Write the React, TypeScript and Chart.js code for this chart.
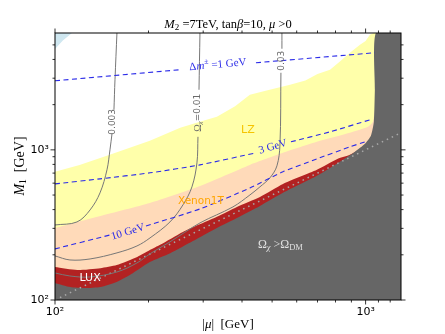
import React, { useEffect, useRef } from 'react';
import { Chart, registerables } from 'chart.js';

Chart.register(...registerables);

const X_MIN = 100;
const X_MAX = 1300;
const Y_MIN = 100;
const Y_MAX = 6000;

// Tick values
const xTickValues = [100, 1000];
const xTickLabels = ['10²', '10³'];
const yTickValues = [100, 1000];
const yTickLabels = ['10²', '10³'];
const xMinorTicks = [200, 300, 400, 500, 600, 700, 800, 900, 1100, 1200];
const yMinorTicks = [200, 300, 400, 500, 600, 700, 800, 900, 2000, 3000, 4000, 5000];

// Region upper edges (|mu|, M1)
const blueMu = [100, 106, 113.4];
const blueM1 = [4700, 5350, 6000];

const lzMu = [100, 120, 150, 202, 253, 300, 332, 380, 424, 480, 571, 640, 700, 768, 830, 890, 959, 1000, 1032, 1063, 1300];
const lzM1 = [714, 794, 926, 1148, 1402, 1560, 1660, 1950, 2326, 2480, 2712, 2900, 3200, 3415, 3900, 4434, 5012, 5300, 5848, 6000, 6000];

const xenonMu = [100, 140, 202, 293, 424, 542, 697, 890, 1017, 1056, 1079, 1300];
const xenonM1 = [302, 363, 443, 575, 794, 955, 1131, 1298, 1423, 1537, 1848, 1848];

const luxMu = [100, 118, 140, 158, 184, 202, 218, 258, 332, 385, 457, 542, 697, 814, 890, 1300];
const luxM1 = [166, 158.5, 163, 171, 193.5, 215, 233, 284, 358, 417, 486, 593, 736, 871, 926, 1500];

const relicMu = [100, 112, 125, 140, 158, 178, 202, 235, 278, 332, 385, 457, 542, 697, 827, 924, 995, 1040, 1063, 1071, 1079, 1300];
const relicM1 = [130, 122, 120, 122, 132, 151, 179, 205, 247, 302, 352, 423, 517, 671, 832, 970, 1096, 1240, 1537, 2512, 6000, 6000];

// M1 = |mu| diagonal
const diagMu = [100, 1300];
const diagM1 = [100, 1300];

// Mass splitting contours (null = gap for label)
const dm1Mu = [100, 252.6, 300, 443.6, 1071];
const dm1M1 = [2884, 3415, null, 3802, 4434];
const dm3Mu = [100, 139.6, 202.2, 292.9, 443.6, 500, 575, 768, 1032];
const dm3M1 = [593, 641, 703, 794, 955, null, 1131, 1318, 1585];
const dm10Mu = [100, 150.3, 170, 196.3, 292.9, 424.3, 541.8, 697.2, 890.2, 995];
const dm10M1 = [219, 271, null, 311, 404, 558, 714, 871, 1047, 1131];

// Relic abundance contours
const om003Mu = [100, 117.7, 129.7, 139.6, 147, 150.3, 152.6, 153.7, 154.8, 156, 158.3];
const om003M1 = [316, 331, 398, 517, 736, 1000, 1279, null, 1848, 2929, 6026];
const om01Mu = [100, 111.7, 129.7, 158.3, 183.6, 202.2, 234.5, 258.2, 276, 286.4, 288.6, 289.5, 290.8, 292.9];
const om01M1 = [196.6, 184.8, 187.7, 206, 229, 259, 331, 430, 567, 819, 1221, null, 2512, 6026];
const om03Mu = [100, 111.7, 129.7, 158.3, 183.6, 202.2, 234.5, 292.9, 374.1, 424.3, 456.9, 492, 518.2, 529.9, 533.8, 536, 537.8, 537.8];
const om03M1 = [151.4, 144.5, 142.3, 153.7, 176.5, 203, 244, 326, 417, 501, 567, 651, 782, 1080, 3261, null, 4713, 6026];

const SERIF = '"Liberation Serif", "DejaVu Serif", serif';
const SANS = '"DejaVu Sans", sans-serif';

type Seg = { t: string; f: string; dy?: number };

function drawRich(ctx: CanvasRenderingContext2D, segs: Seg[], x: number, y: number, angle: number, align: 'center' | 'left', color: string) {
  ctx.save();
  ctx.translate(x, y);
  ctx.rotate((angle * Math.PI) / 180);
  ctx.fillStyle = color;
  ctx.textBaseline = 'middle';
  ctx.textAlign = 'left';
  let w = 0;
  for (const s of segs) {
    ctx.font = s.f;
    w += ctx.measureText(s.t).width;
  }
  let cx = align === 'center' ? -w / 2 : 0;
  for (const s of segs) {
    ctx.font = s.f;
    ctx.fillText(s.t, cx, s.dy || 0);
    cx += ctx.measureText(s.t).width;
  }
  ctx.restore();
}

const pts = (xs: number[], ys: (number | null)[]) => xs.map((x, i) => ({ x, y: ys[i] }));

const overlayPlugin = {
  id: 'overlay',
  afterDraw(chart: any) {
    const { ctx, chartArea: a, scales } = chart;
    const x = scales.x;
    const y = scales.y;
    const px = (v: number) => x.getPixelForValue(v);
    const py = (v: number) => y.getPixelForValue(v);

    // frame
    ctx.save();
    ctx.strokeStyle = '#000';
    ctx.lineWidth = 1;
    ctx.strokeRect(a.left, a.top, a.right - a.left, a.bottom - a.top);
    ctx.lineWidth = 0.8;
    ctx.beginPath();
    const tick = (x0: number, y0: number, x1: number, y1: number) => {
      ctx.moveTo(x0, y0);
      ctx.lineTo(x1, y1);
    };
    for (const v of xTickValues) {
      const p = px(v);
      tick(p, a.bottom, p, a.bottom + 4.5);
      tick(p, a.top, p, a.top - 4.5);
    }
    for (const v of xMinorTicks) {
      const p = px(v);
      tick(p, a.bottom, p, a.bottom + 2.5);
      tick(p, a.top, p, a.top - 2.5);
    }
    for (const v of yTickValues) {
      const p = py(v);
      tick(a.left, p, a.left - 4.5, p);
      tick(a.right, p, a.right + 4.5, p);
    }
    for (const v of yMinorTicks) {
      const p = py(v);
      tick(a.left, p, a.left - 2.5, p);
      tick(a.right, p, a.right + 2.5, p);
    }
    ctx.stroke();
    ctx.restore();

    // title
    const tf = `12.5px ${SERIF}`;
    const tfi = `italic 12.5px ${SERIF}`;
    drawRich(ctx, [
      { t: 'M', f: tfi },
      { t: '2', f: `9px ${SERIF}`, dy: 3 },
      { t: ' =7TeV, tan', f: tf },
      { t: 'β', f: tfi },
      { t: '=10, ', f: tf },
      { t: 'μ', f: tfi },
      { t: ' >0', f: tf },
    ], (a.left + a.right) / 2, 25, 0, 'center', '#000');

    // axis titles
    drawRich(ctx, [
      { t: '|', f: `13px ${SERIF}` },
      { t: 'μ', f: `italic 13px ${SERIF}` },
      { t: '|  [GeV]', f: `13px ${SERIF}` },
    ], (a.left + a.right) / 2, 325, 0, 'center', '#000');
    drawRich(ctx, [
      { t: 'M', f: `italic 14px ${SERIF}` },
      { t: '1', f: `9.5px ${SERIF}`, dy: 3 },
      { t: '  [GeV]', f: `14px ${SERIF}` },
    ], 20, 166, -90, 'center', '#000');

    // region labels
    drawRich(ctx, [{ t: 'LZ', f: `11px ${SANS}` }], px(418), py(1359), 0, 'center', '#f5c400');
    drawRich(ctx, [{ t: 'Xenon1T', f: `10.5px ${SANS}` }], px(295), py(457), 0, 'center', '#ffa500');
    drawRich(ctx, [{ t: 'LUX', f: `11px ${SANS}` }], px(129.7), py(140), 0, 'center', '#ffffff');
    drawRich(ctx, [
      { t: 'Ω', f: `12px ${SERIF}` },
      { t: 'χ', f: `italic 8.5px ${SERIF}`, dy: 3 },
      { t: ' >Ω', f: `12px ${SERIF}` },
      { t: 'DM', f: `8.5px ${SERIF}`, dy: 3 },
    ], px(450), py(233), 0, 'left', '#e0e0e0');

    // mass splitting labels
    const blue = '#2b2be8';
    drawRich(ctx, [
      { t: 'Δ', f: `11px ${SERIF}` },
      { t: 'm', f: `italic 11px ${SERIF}` },
      { t: '±', f: `8px ${SERIF}`, dy: -4 },
      { t: ' =1 GeV', f: `11px ${SERIF}` },
    ], px(334.6), py(3687), -5, 'center', blue);
    drawRich(ctx, [{ t: '3 GeV', f: `11px ${SERIF}` }], px(503), py(1047), -16, 'center', blue);
    drawRich(ctx, [{ t: '10 GeV', f: `11px ${SERIF}` }], px(171.8), py(284), -17, 'center', blue);

    // relic contour labels
    const grey = '#6a6a6a';
    drawRich(ctx, [{ t: '0.003', f: `9px ${SANS}` }], px(153.7), py(1537), -90, 'center', grey);
    drawRich(ctx, [
      { t: 'Ω', f: `10px ${SERIF}` },
      { t: 'χ', f: `italic 7px ${SERIF}`, dy: 2 },
      { t: '=0.01', f: `9px ${SANS}` },
    ], px(288.6), py(1765), -90, 'center', grey);
    drawRich(ctx, [{ t: '0.03', f: `9px ${SANS}` }], px(537.8), py(3920), -90, 'center', grey);
  },
};

export default function App() {
  const ref = useRef<HTMLCanvasElement | null>(null);

  useEffect(() => {
    if (!ref.current) return;
    const fillDs = (data: any, color: string, order: number, fill: any = 'start', tension = 0) => ({
      data,
      borderWidth: 0,
      borderColor: color,
      backgroundColor: color,
      pointRadius: 0,
      tension,
      fill,
      order,
    });
    const lineDs = (data: any, color: string, width: number, dash: number[], order: number, tension = 0) => ({
      data,
      borderWidth: width,
      borderColor: color,
      borderDash: dash,
      backgroundColor: 'transparent',
      pointRadius: 0,
      tension,
      fill: false,
      spanGaps: false,
      order,
    });
    const blue = '#2b2be8';
    const grey = '#777777';
    const chart = new Chart(ref.current, {
      type: 'line',
      data: {
        datasets: [
          lineDs(pts(dm1Mu, dm1M1), blue, 1.1, [5, 3.5], 1),
          lineDs(pts(dm3Mu, dm3M1), blue, 1.1, [5, 3.5], 1, 0.2),
          lineDs(pts(dm10Mu, dm10M1), blue, 1.1, [5, 3.5], 1, 0.2),
          lineDs(pts(om003Mu, om003M1), grey, 1, [], 1, 0.35),
          lineDs(pts(om01Mu, om01M1), grey, 1, [], 1, 0.35),
          lineDs(pts(om03Mu, om03M1), grey, 1, [], 1, 0.35),
          lineDs(pts(diagMu, diagM1), '#a8a8a8', 1.5, [1.5, 4], 2),
          fillDs(pts(relicMu, relicM1), '#666666', 3, 'start', 0.2),
          fillDs(pts(luxMu, luxM1), '#b22222', 4, 'start', 0.2),
          fillDs(pts(xenonMu, xenonM1), '#ffdab9', 5, 'start', 0.2),
          fillDs(pts(lzMu, lzM1), '#ffffaa', 6),
          fillDs(pts(blueMu, blueM1), '#cfe7f0', 7, 'end'),
        ],
      },
      options: {
        animation: false,
        responsive: false,
        maintainAspectRatio: false,
        devicePixelRatio: 1,
        events: [],
        layout: { padding: { left: 0, right: 44, top: 33, bottom: 0 } },
        plugins: { legend: { display: false }, tooltip: { enabled: false }, title: { display: false } },
        scales: {
          x: {
            type: 'logarithmic',
            min: X_MIN,
            max: X_MAX,
            afterFit: (s: any) => { s.height = 34; },
            afterBuildTicks: (s: any) => { s.ticks = xTickValues.map((v) => ({ value: v })); },
            ticks: {
              autoSkip: false,
              maxRotation: 0,
              padding: 2,
              color: '#000',
              font: { family: 'DejaVu Sans', size: 11 },
              callback: (_v: any, i: number) => xTickLabels[i],
            },
            grid: { drawOnChartArea: false, drawTicks: true, tickLength: 4, color: 'rgba(0,0,0,0)' },
            border: { display: false },
          },
          y: {
            type: 'logarithmic',
            min: Y_MIN,
            max: Y_MAX,
            afterFit: (s: any) => { s.width = 55; },
            afterBuildTicks: (s: any) => { s.ticks = yTickValues.map((v) => ({ value: v })); },
            ticks: {
              autoSkip: false,
              padding: 2,
              color: '#000',
              font: { family: 'DejaVu Sans', size: 11 },
              callback: (_v: any, i: number) => yTickLabels[i],
            },
            grid: { drawOnChartArea: false, drawTicks: true, tickLength: 4, color: 'rgba(0,0,0,0)' },
            border: { display: false },
          },
        },
      } as any,
      plugins: [overlayPlugin],
    });
    return () => chart.destroy();
  }, []);

  return (
    <div style={{ position: 'absolute', left: 0, top: 0, width: 445, height: 334, background: '#fff' }}>
      <canvas ref={ref} width={445} height={334} style={{ display: 'block', width: 445, height: 334 }} />
    </div>
  );
}
